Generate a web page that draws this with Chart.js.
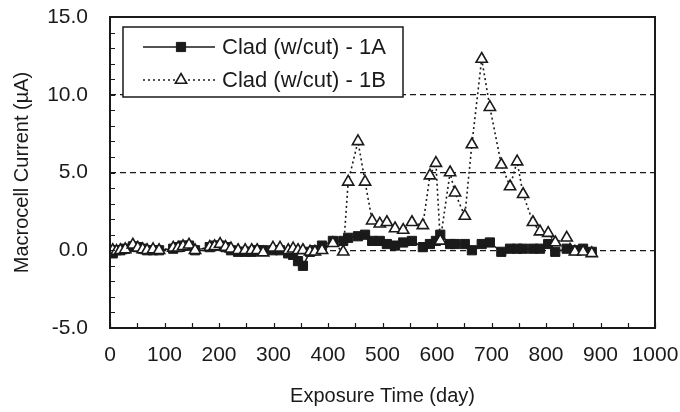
<!DOCTYPE html>
<html>
<head>
<meta charset="utf-8">
<script src="https://cdn.jsdelivr.net/npm/chart.js@4/dist/chart.umd.min.js"></script>
<style>
  html, body { margin: 0; padding: 0; background: #ffffff; }
  #wrap { width: 680px; height: 412px; position: relative; }
</style>
</head>
<body>
<div id="wrap"><canvas id="c" width="680" height="412"></canvas></div>
<script>
// Measurement days (exposure time)
const days = [5, 12, 19, 28, 42, 51, 60, 68, 79, 90,
  116, 125, 134, 145, 156, 183, 192, 202, 212, 222,
  235, 248, 260, 270, 281, 299, 312, 327, 336, 345,
  354, 367, 376, 389, 409, 428, 437, 455, 468, 481,
  495, 508, 523, 538, 554, 574, 587, 598, 606, 624,
  633, 651, 664, 682, 697, 718, 734, 747, 758, 776,
  789, 804, 817, 838, 853, 868, 884];

// Macrocell current, specimen 1A (µA)
const clad1A = [-0.2, 0.0, 0.0, 0.1, 0.25, 0.2, 0.1, 0.0, 0.0, 0.0,
  0.1, 0.2, 0.3, 0.3, 0.0, 0.2, 0.3, 0.3, 0.2, 0.0,
  -0.1, -0.1, -0.1, 0.0, 0.0, 0.0, 0.0, -0.2, -0.3, -0.7,
  -1.0, -0.1, 0.0, 0.3, 0.6, 0.6, 0.8, 0.9, 1.0, 0.6,
  0.6, 0.4, 0.3, 0.5, 0.6, 0.2, 0.4, 0.6, 1.0, 0.4,
  0.4, 0.4, 0.0, 0.4, 0.5, -0.1, 0.1, 0.1, 0.1, 0.1,
  0.1, 0.4, -0.1, 0.1, 0.0, 0.1, -0.1];

// Macrocell current, specimen 1B (µA)
const clad1B = [0.0, -0.05, 0.0, 0.05, 0.35, 0.15, 0.05, 0.0, 0.05, 0.0,
  0.15, 0.15, 0.25, 0.35, 0.0, 0.2, 0.25, 0.4, 0.2, 0.1,
  0.0, 0.0, 0.0, 0.0, -0.15, 0.15, 0.15, 0.0, 0.1, 0.0,
  0.0, -0.1, -0.1, 0.0, 0.45, -0.1, 4.4, 7.0, 4.4, 1.9,
  1.7, 1.8, 1.4, 1.3, 1.8, 1.6, 4.8, 5.6, 0.6, 5.0,
  3.7, 2.2, 6.8, 12.3, 9.2, 5.5, 4.1, 5.7, 3.6, 1.8,
  1.2, 1.1, 0.5, 0.8, -0.1, -0.1, -0.2];

const seriesNames = ['Clad (w/cut) - 1A', 'Clad (w/cut) - 1B'];
const xTicks = [0, 100, 200, 300, 400, 500, 600, 700, 800, 900, 1000];
const yTicks = [-5, 0, 5, 10, 15];

const FONT = "'Liberation Sans', Arial, Helvetica, sans-serif";
const INK = '#1a1a1a';

const toPoints = (vals) => days.map((d, i) => ({ x: d, y: vals[i] }));

// Frame, inward minor ticks and a boxed legend
const decor = {
  id: 'decor',
  afterDatasetsDraw(chart) {
    const { ctx, chartArea: a, scales } = chart;
    const xs = scales.x, ys = scales.y;
    ctx.save();
    ctx.strokeStyle = INK;
    ctx.lineWidth = 1.2;
    ctx.beginPath();
    for (let v = xs.min; v <= xs.max; v += 50) {
      const px = Math.round(xs.getPixelForValue(v)) + 0.5;
      ctx.moveTo(px, a.bottom);
      ctx.lineTo(px, a.bottom - 5);
    }
    for (let v = ys.min; v <= ys.max; v += 1) {
      const py = Math.round(ys.getPixelForValue(v)) + 0.5;
      ctx.moveTo(a.left, py);
      ctx.lineTo(a.left + 5, py);
    }
    ctx.stroke();

    ctx.lineWidth = 2;
    ctx.strokeRect(a.left, a.top, a.right - a.left, a.bottom - a.top);

    // legend box
    const bx = 123, by = 27, bw = 280, bh = 70;
    ctx.fillStyle = '#ffffff';
    ctx.fillRect(bx, by, bw, bh);
    ctx.lineWidth = 1.5;
    ctx.strokeStyle = INK;
    ctx.strokeRect(bx, by, bw, bh);

    const rows = [47, 80];
    chart.data.datasets.forEach((ds, i) => {
      const y = rows[i];
      ctx.save();
      ctx.strokeStyle = ds.borderColor;
      ctx.lineWidth = ds.borderWidth;
      ctx.setLineDash(ds.borderDash || []);
      ctx.beginPath();
      ctx.moveTo(143, y);
      ctx.lineTo(215, y);
      ctx.stroke();
      ctx.restore();

      ctx.save();
      ctx.fillStyle = ds.pointBackgroundColor;
      ctx.strokeStyle = ds.pointBorderColor;
      ctx.lineWidth = ds.pointBorderWidth;
      ctx.setLineDash([]);
      Chart.helpers.drawPoint(ctx, {
        pointStyle: ds.pointStyle,
        radius: ds.pointRadius,
        borderWidth: ds.pointBorderWidth
      }, 181, y);
      ctx.restore();

      ctx.fillStyle = INK;
      ctx.font = '22px ' + FONT;
      ctx.textBaseline = 'middle';
      ctx.textAlign = 'left';
      ctx.fillText(seriesNames[i], 222, y + 1);
    });
    ctx.restore();
  }
};

new Chart(document.getElementById('c'), {
  type: 'line',
  data: {
    datasets: [
      {
        label: seriesNames[0],
        data: toPoints(clad1A),
        borderColor: INK,
        borderWidth: 1.5,
        pointStyle: 'rect',
        pointRadius: 6.5,
        pointBorderWidth: 1,
        pointBackgroundColor: INK,
        pointBorderColor: INK,
        order: 1
      },
      {
        label: seriesNames[1],
        data: toPoints(clad1B),
        borderColor: INK,
        borderWidth: 1.6,
        borderDash: [2, 3],
        pointStyle: 'triangle',
        pointRadius: 6.5,
        pointBorderWidth: 1.6,
        pointBackgroundColor: '#ffffff',
        pointBorderColor: INK,
        order: 0
      }
    ]
  },
  options: {
    responsive: false,
    animation: false,
    layout: { padding: { left: 0, right: 25, top: 17, bottom: 0 } },
    plugins: {
      legend: { display: false },
      tooltip: { enabled: false }
    },
    scales: {
      x: {
        type: 'linear',
        min: 0, max: 1000,
        afterBuildTicks: (s) => { s.ticks = xTicks.map(v => ({ value: v })); },
        afterFit: (s) => { s.height = 84; s.paddingLeft = 0; s.paddingRight = 0; },
        grid: { display: false, drawTicks: false },
        border: { display: false },
        ticks: {
          color: INK,
          font: { family: FONT, size: 21 },
          padding: 15,
          maxRotation: 0,
          autoSkip: false,
          callback: (v) => String(v)
        },
        title: {
          display: true,
          text: 'Exposure Time (day)',
          color: INK,
          font: { family: FONT, size: 20 },
          padding: { top: 0, bottom: 4 }
        }
      },
      y: {
        type: 'linear',
        min: -5, max: 15,
        afterBuildTicks: (s) => { s.ticks = yTicks.map(v => ({ value: v })); },
        afterFit: (s) => { s.width = 110; s.paddingTop = 0; s.paddingBottom = 0; },
        grid: {
          drawTicks: false,
          color: (c) => (c.tick && (c.tick.value === -5 || c.tick.value === 15)) ? 'rgba(0,0,0,0)' : INK,
          lineWidth: 1.3
        },
        border: { display: false, dash: [6, 4] },
        ticks: {
          color: INK,
          font: { family: FONT, size: 21 },
          padding: 22,
          callback: (v) => Number(v).toFixed(1)
        },
        title: {
          display: true,
          text: 'Macrocell Current (µA)',
          color: INK,
          font: { family: FONT, size: 20 },
          padding: { top: 10, bottom: 0 }
        }
      }
    }
  },
  plugins: [decor]
});
</script>
</body>
</html>
